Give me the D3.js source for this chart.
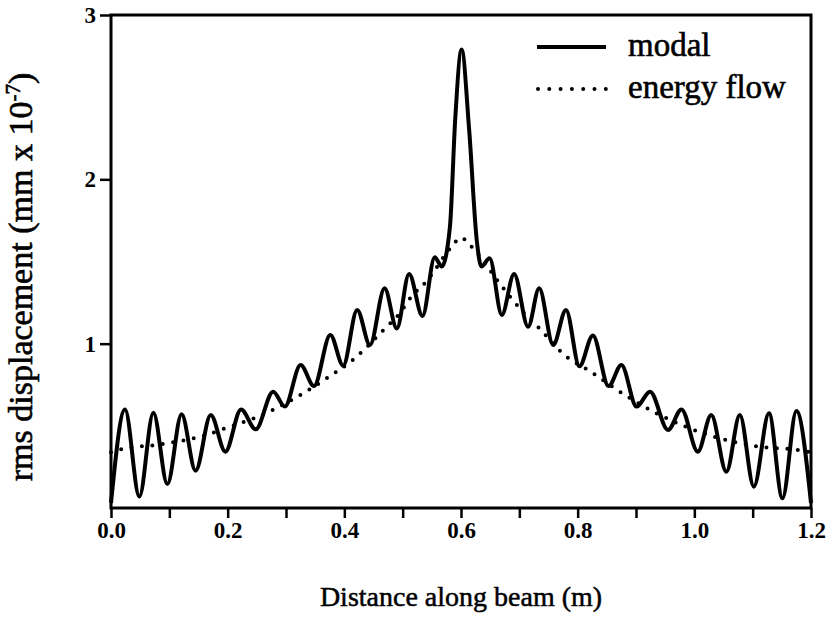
<!DOCTYPE html>
<html>
<head>
<meta charset="utf-8">
<script src="https://cdn.jsdelivr.net/npm/d3@7"></script>
<style>
  body { margin: 0; background: #fff; }
  text { font-family: "Liberation Serif", "Times New Roman", serif; fill: #000; }
</style>
</head>
<body>
<div id="chart"></div>
<script>
// modal response at its peaks and troughs
var modalX = [0.000, 0.024, 0.0486, 0.0726, 0.0966, 0.121, 0.145, 0.171, 0.196, 0.223,
  0.248, 0.278, 0.298, 0.325, 0.348, 0.376, 0.398, 0.422, 0.444, 0.469,
  0.490, 0.511, 0.534, 0.555, 0.567, 0.581, 0.590, 0.601, 0.614, 0.627,
  0.635, 0.649, 0.670, 0.691, 0.715, 0.734, 0.758, 0.780, 0.803, 0.826,
  0.853, 0.875, 0.901, 0.924, 0.955, 0.978, 1.006, 1.029, 1.055, 1.078,
  1.102, 1.128, 1.151, 1.175, 1.200];
var modalY = [0.03, 0.60, 0.07, 0.58, 0.146, 0.57, 0.227, 0.566, 0.343, 0.60,
  0.479, 0.708, 0.617, 0.87, 0.742, 1.053, 0.866, 1.205, 0.992, 1.337,
  1.093, 1.424, 1.168, 1.526, 1.469, 1.71, 2.36, 2.79, 2.30, 1.63,
  1.469, 1.52, 1.175, 1.424, 1.103, 1.337, 0.992, 1.205, 0.862, 1.05,
  0.742, 0.87, 0.617, 0.708, 0.475, 0.60, 0.343, 0.566, 0.22, 0.566,
  0.13, 0.576, 0.059, 0.59, 0.03];

// energy flow prediction
var flowX = [0.000, 0.021, 0.080, 0.153, 0.204, 0.255, 0.273, 0.321, 0.370, 0.414,
  0.467, 0.495, 0.515, 0.541, 0.584, 0.600, 0.618, 0.664, 0.684, 0.707,
  0.737, 0.776, 0.822, 0.867, 0.930, 0.978, 1.030, 1.104, 1.177, 1.200];
var flowY = [0.34, 0.36, 0.385, 0.434, 0.495, 0.56, 0.59, 0.68, 0.79, 0.90,
  1.083, 1.185, 1.286, 1.38, 1.59, 1.645, 1.59, 1.377, 1.286, 1.19,
  1.083, 0.935, 0.83, 0.72, 0.586, 0.505, 0.438, 0.377, 0.353, 0.34];

var xTicks = [0, 0.1, 0.2, 0.3, 0.4, 0.5, 0.6, 0.7, 0.8, 0.9, 1.0, 1.1, 1.2];
var xLabels = [0, 0.2, 0.4, 0.6, 0.8, 1.0, 1.2];
var yTicks = [1, 2, 3];
var legendNames = ["modal", "energy flow"];

var W = 827, H = 621;
var plotL = 111, plotR = 811, plotT = 15, plotB = 508;

var svg = d3.select("#chart").append("svg")
  .attr("width", W)
  .attr("height", H);

var x = d3.scaleLinear().domain([0, 1.2]).range([plotL, plotR]);
var y = d3.scaleLinear().domain([0, 3]).range([plotB, plotT]);

// axes
var xAxis = d3.axisBottom(x)
  .tickValues(xTicks)
  .tickSize(10)
  .tickSizeOuter(0)
  .tickPadding(4)
  .tickFormat(function(d) {
    return xLabels.some(function(v) { return Math.abs(v - d) < 1e-6; }) ? d3.format(".1f")(d) : "";
  });

var yAxis = d3.axisLeft(y)
  .tickValues(yTicks)
  .tickSize(11)
  .tickSizeOuter(0)
  .tickPadding(4)
  .tickFormat(d3.format("d"));

var gx = svg.append("g")
  .attr("transform", "translate(0," + plotB + ")")
  .call(xAxis);
var gy = svg.append("g")
  .attr("transform", "translate(" + plotL + ",0)")
  .call(yAxis);

[gx, gy].forEach(function(g) {
  g.select(".domain").remove();
  g.selectAll(".tick line").attr("stroke", "#000").attr("stroke-width", 2.5);
  g.selectAll(".tick text")
    .style("font-family", "'Liberation Serif', serif")
    .style("font-weight", "bold")
    .style("font-size", "23px")
    .attr("fill", "#000");
});

// frame
svg.append("rect")
  .attr("x", plotL)
  .attr("y", plotT)
  .attr("width", plotR - plotL)
  .attr("height", plotB - plotT)
  .attr("fill", "none")
  .attr("stroke", "#000")
  .attr("stroke-width", 3);

var modal = modalX.map(function(d, i) { return [d, modalY[i]]; });
var flow = flowX.map(function(d, i) { return [d, flowY[i]]; });

var line = d3.line()
  .x(function(d) { return x(d[0]); })
  .y(function(d) { return y(d[1]); })
  .curve(d3.curveMonotoneX);

svg.append("path")
  .datum(flow)
  .attr("d", line)
  .attr("fill", "none")
  .attr("stroke", "#000")
  .attr("stroke-width", 4)
  .attr("stroke-linecap", "round")
  .attr("stroke-dasharray", "0,10.5");

svg.append("path")
  .datum(modal)
  .attr("d", line)
  .attr("fill", "none")
  .attr("stroke", "#000")
  .attr("stroke-width", 4)
  .attr("stroke-linejoin", "round");

// legend
var legend = svg.append("g");
legend.append("line")
  .attr("x1", 537).attr("x2", 606)
  .attr("y1", 47).attr("y2", 47)
  .attr("stroke", "#000").attr("stroke-width", 4);
legend.append("line")
  .attr("x1", 538).attr("x2", 606)
  .attr("y1", 89).attr("y2", 89)
  .attr("stroke", "#000").attr("stroke-width", 4)
  .attr("stroke-linecap", "round")
  .attr("stroke-dasharray", "0,11.3");
legend.selectAll("text.leg")
  .data(legendNames)
  .enter()
  .append("text")
  .attr("class", "leg")
  .attr("x", 628)
  .attr("y", function(d, i) { return 56 + i * 42; })
  .style("font-size", "33px")
  .attr("stroke", "#000")
  .attr("stroke-width", 0.6)
  .text(function(d) { return d; });

// axis titles
svg.append("text")
  .attr("x", (plotL + plotR) / 2)
  .attr("y", 606)
  .attr("text-anchor", "middle")
  .style("font-size", "28px")
  .attr("stroke", "#000")
  .attr("stroke-width", 0.5)
  .text("Distance along beam (m)");

var yt = svg.append("text")
  .attr("transform", "translate(32,277) rotate(-90)")
  .attr("text-anchor", "middle")
  .style("font-size", "34px")
  .attr("stroke", "#000")
  .attr("stroke-width", 0.6);
yt.append("tspan").text("rms displacement (mm x 10");
yt.append("tspan").attr("dy", -12).style("font-size", "21px").text("-7");
yt.append("tspan").attr("dy", 12).text(")");
</script>
</body>
</html>
